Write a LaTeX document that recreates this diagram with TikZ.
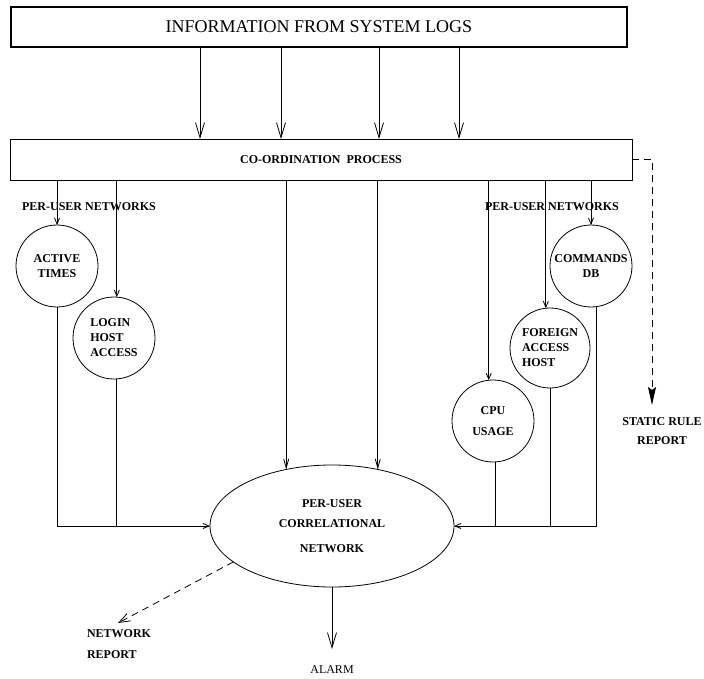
\documentclass[tikz,border=0pt]{standalone}
\usepackage{fontspec}
\setmainfont{Liberation Serif}
\usetikzlibrary{arrows.meta,shapes.geometric}
\begin{document}
\begin{tikzpicture}[x=1pt,y=-1pt,
  every node/.style={inner sep=0pt,outer sep=0pt},
  lbl/.style={font=\bfseries\fontsize{12}{15}\selectfont},
  ln/.style={line width=0.8pt},
  circ/.style={draw,circle,minimum size=82pt,ln,lbl,align=center},
  bigv/.style={ln,-{Straight Barb[length=15pt,width=9pt]}},
  smallv/.style={ln,-{Straight Barb[length=6pt,width=5pt]}},
  midv/.style={ln,-{Straight Barb[length=9pt,width=5pt]}},
  dsh/.style={ln,dash pattern=on 7pt off 5pt},
]
\useasboundingbox (0,0) rectangle (704,679);

\node[draw,line width=1.8pt,minimum width=616pt,minimum height=40pt,
      font=\fontsize{18}{20}\selectfont] (logs) at (319,27) {INFORMATION FROM SYSTEM LOGS};
\node[draw,ln,minimum width=622pt,minimum height=41pt,lbl] (coord) at (321,159.5) {CO-ORDINATION\ \ PROCESS};

\foreach \i/\x in {1/200,2/281,3/379,4/459}{
  \coordinate (t\i) at (\x,0);
  \draw[bigv] (logs.south -| t\i) -- (coord.north -| t\i);
}

\node[lbl] (pun1) at (89,207) {PER-USER NETWORKS};
\node[lbl] (pun2) at (552,207) {PER-USER NETWORKS};

\node[circ] (act) at (57,266) {ACTIVE\\TIMES};
\node[circ,align=left] (login) at (114,338) {LOGIN\\HOST\\ACCESS};
\node[circ] (cmd) at (591,266) {COMMANDS\\DB};
\node[circ,align=left,minimum size=80pt] (for) at (550,348) {FOREIGN\\ACCESS\\HOST};
\node[circ] (cpu) at (493,421) {CPU\\[6pt]USAGE};

\node[draw,ellipse,ln,minimum width=244pt,minimum height=122pt,lbl,align=center] (corr) at (332,526)
  {PER-USER\\[5pt]CORRELATIONAL\\[10pt]NETWORK};

\draw[smallv] (coord.south -| act.north) -- (act.north);
\draw[smallv] (coord.south -| login.86) -- (login.86);
\draw[midv] (coord.south -| corr.129) -- (corr.129);
\draw[midv] (coord.south -| corr.51) -- (corr.51);
\draw[smallv] (coord.south -| cpu.96) -- (cpu.96);
\draw[smallv] (coord.south -| for.96) -- (for.96);
\draw[smallv] (coord.south -| cmd.north) -- (cmd.north);

\draw[smallv] (act.south) -- (act.south |- corr.west) -- (corr.west);
\draw[ln] (login.-86) -- (login.-86 |- corr.west);
\draw[smallv] (cmd.-83) -- (cmd.-83 |- corr.east) -- (corr.east);
\draw[ln] (for.south) -- (for.south |- corr.east);
\draw[ln] (cpu.-87) -- (cpu.-87 |- corr.east);

\coordinate (alarmtip) at (332,649);
\draw[bigv] (corr.south) -- (alarmtip);
\node[font=\fontsize{12}{14}\selectfont] (alarm) at (332,670) {ALARM};

\coordinate (nrtip) at (118,623);
\draw[dsh,-{Straight Barb[length=11pt,width=8pt]}] (corr.200.5) -- (nrtip);
\node[lbl,align=left,anchor=west] (nr) at (87,644.5) {NETWORK\\[6pt]REPORT};

\coordinate (sr1) at (652,159.5);
\coordinate (srtip) at (652,405);
\draw[dsh,-{Stealth[length=18pt,width=8pt,inset=3pt]}] (coord.east) -- (sr1) -- (srtip);
\node[lbl,align=center] (sr) at (662,431.5) {STATIC RULE\\[4pt]REPORT};
\end{tikzpicture}
\end{document}
